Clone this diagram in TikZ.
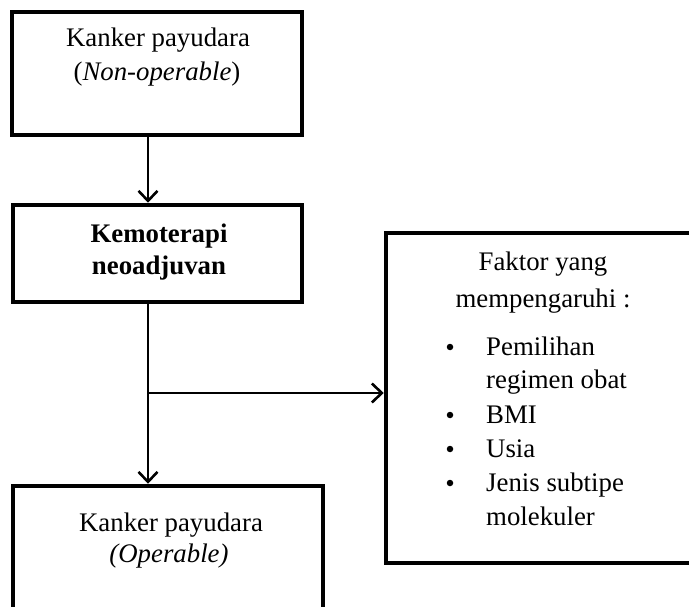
\documentclass[tikz,border=0pt]{standalone}
\usepackage{fontspec}
\setmainfont{Liberation Serif}
\usetikzlibrary{arrows.meta}
\tikzset{
  boxnode/.style={draw=black, line width=4.5pt, inner sep=0pt, fill=none},
  txt/.style={anchor=base, inner sep=0pt, font=\fontsize{26.8}{33}\selectfont},
  dotnode/.style={circle, fill=black, inner sep=0pt, minimum size=6.5pt},
  conn/.style={draw=black, line width=2.6pt},
  arr/.style={conn, -{Straight Barb[length=10pt,width=19pt,line width=2.6pt]}}
}
\begin{document}
\begin{tikzpicture}[x=1pt,y=-1pt]
\useasboundingbox (0,0) rectangle (689,607);
\clip (0,0) rectangle (689,607);
\fill[white] (0,0) rectangle (689,607);
% boxes
\node[boxnode, minimum width=290pt, minimum height=123pt] (b1) at (157,73.5) {};
\node[boxnode, minimum width=289pt, minimum height=97pt] (b2) at (157.5,253.5) {};
\node[boxnode, minimum width=334pt, minimum height=330pt] (b3) at (553,398) {};
\node[boxnode, minimum width=310pt, minimum height=154pt] (b4) at (168,563) {};
% texts
\node[txt] (t1a) at (158,47) {Kanker payudara};
\node[txt] (t1b) at (157,81) {(\textit{Non-operable})};
\node[txt] (t2a) at (159,243) {\textbf{Kemoterapi}};
\node[txt] (t2b) at (159,275) {\textbf{neoadjuvan}};
\node[txt] (t4a) at (171,531) {Kanker payudara};
\node[txt] (t4b) at (169,562) {\textit{(Operable)}};
\node[txt] (t3a) at (543,270) {Faktor yang};
\node[txt] (t3b) at (543,308) {mempengaruhi :};
\node[dotnode] (u1) at (450,347) {};
\node[txt, anchor=base west] (l1) at (486,355) {Pemilihan};
\node[txt, anchor=base west] (l1b) at (486,388) {regimen obat};
\node[dotnode] (u2) at (450,415) {};
\node[txt, anchor=base west] (l2) at (486,423) {BMI};
\node[dotnode] (u3) at (450,449) {};
\node[txt, anchor=base west] (l3) at (486,457) {Usia};
\node[dotnode] (u4) at (450,483) {};
\node[txt, anchor=base west] (l4) at (486,491) {Jenis subtipe};
\node[txt, anchor=base west] (l4b) at (486,525) {molekuler};
% connectors
\coordinate (ax) at (148,0);
\coordinate (br) at (148,393);
\draw[arr] (b1.south -| ax) -- (b2.north -| ax);
\draw[arr] (b2.south -| ax) -- (b4.north -| ax);
\draw[arr] (br) -- (b3.west |- br);
\end{tikzpicture}
\end{document}
